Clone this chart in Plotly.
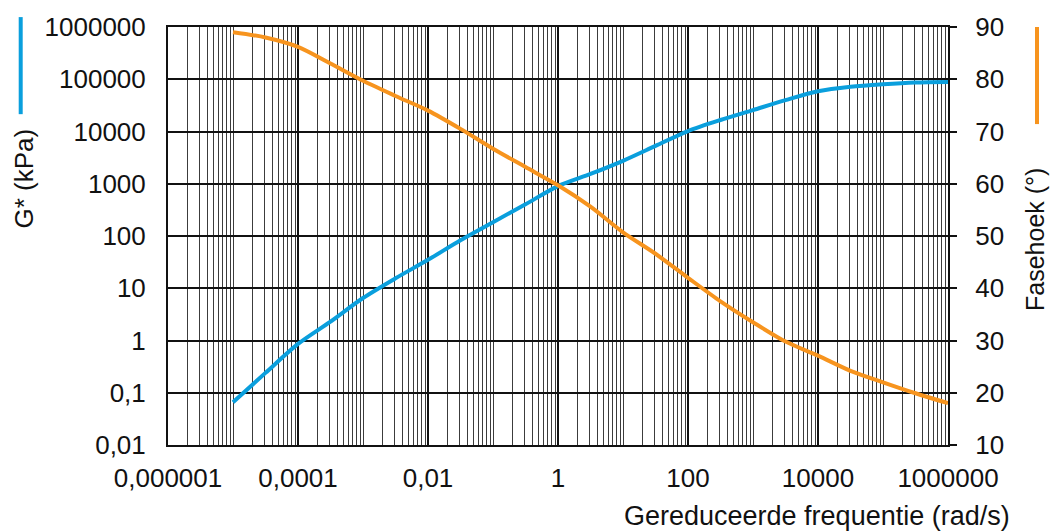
import plotly.graph_objects as go

# Master curve data: reduced frequency (rad/s), complex modulus G* (kPa), phase angle (deg)
frequency = [1e-5, 3.16e-5, 1e-4, 3.16e-4, 1e-3, 3.16e-3, 1e-2, 3.16e-2, 1e-1, 3.16e-1,
             1, 3.16, 10, 31.6, 100, 316, 1000, 3160, 10000, 31600, 100000, 316000, 1000000]
g_star = [0.066, 0.24, 0.86, 2.3, 6.5, 15.5, 35, 83, 184, 405,
          900, 1540, 2750, 5300, 10200, 16600, 25700, 39800, 58900, 72000, 80500, 87000, 89000]
phase = [89.0, 88.0, 86.2, 83.0, 79.7, 76.8, 74.0, 70.5, 66.7, 63.2,
         59.7, 55.6, 50.7, 46.6, 42.0, 37.5, 33.5, 29.8, 27.1, 24.2, 22.0, 19.9, 18.0]

x_tickvals = [1e-6, 1e-4, 1e-2, 1, 100, 10000, 1000000]
x_ticktext = ["0,000001", "0,0001", "0,01", "1", "100", "10000", "1000000"]
y_tickvals = [0.01, 0.1, 1, 10, 100, 1000, 10000, 100000, 1000000]
y_ticktext = ["0,01", "0,1", "1", "10", "100", "1000", "10000", "100000", "1000000"]
y2_tickvals = [10, 20, 30, 40, 50, 60, 70, 80, 90]

BLUE = "#0A9FDD"
ORANGE = "#F7941E"
FONT = "Liberation Sans, Arial, sans-serif"

# every 1..9 step of each decade as a minor gridline
minor_x = [m * 10.0 ** e for e in range(-6, 6) for m in range(1, 10)]

fig = go.Figure()
fig.add_trace(go.Scatter(x=frequency, y=g_star, mode="lines", name="G* (kPa)",
                         line=dict(color=BLUE, width=4, shape="spline", smoothing=0.8),
                         yaxis="y"))
fig.add_trace(go.Scatter(x=frequency, y=phase, mode="lines", name="Fasehoek (°)",
                         line=dict(color=ORANGE, width=4, shape="spline", smoothing=0.8),
                         yaxis="y2"))

L, R, T, B = 168, 102, 23, 86
W, H = 1050, 531
pw, ph = W - L - R, H - T - B


def px(x):
    return (x - L) / pw


def py(y):
    return (H - B - y) / ph


fig.update_layout(
    width=W, height=H,
    margin=dict(l=L, r=R, t=T, b=B),
    paper_bgcolor="white", plot_bgcolor="white",
    showlegend=False,
    font=dict(family=FONT, size=26, color="#111"),
    xaxis=dict(
        type="log", range=[-6, 6],
        tickmode="array", tickvals=x_tickvals, ticktext=x_ticktext,
        showgrid=True, gridcolor="#111", gridwidth=2,
        ticks="", ticklabelstandoff=9,
        showline=True, linecolor="#111", linewidth=2, mirror=True,
        minor=dict(tickmode="array", tickvals=minor_x, showgrid=True,
                   gridcolor="#3c3c3c", gridwidth=1, ticks=""),
        zeroline=False,
    ),
    yaxis=dict(
        type="log", range=[-2, 6],
        tickmode="array", tickvals=y_tickvals, ticktext=y_ticktext,
        showgrid=True, gridcolor="#111", gridwidth=2,
        ticks="", ticklabelstandoff=15,
        showline=True, linecolor="#111", linewidth=2,
        zeroline=False,
    ),
    yaxis2=dict(
        overlaying="y", side="right", range=[10, 90],
        tickmode="array", tickvals=y2_tickvals,
        showgrid=False, zeroline=False,
        ticks="outside", ticklen=7, tickcolor="#111", tickwidth=2,
        ticklabelstandoff=13,
        showline=True, linecolor="#111", linewidth=2,
    ),
)

# axis titles with their series colour keys
fig.add_annotation(text="G* (kPa)", xref="paper", yref="paper", x=px(24), y=py(176),
                   textangle=-90, showarrow=False, font=dict(size=26),
                   xanchor="center", yanchor="middle")
fig.add_annotation(text="Fasehoek (°)", xref="paper", yref="paper", x=px(1035), y=py(238),
                   textangle=-90, showarrow=False, font=dict(size=25),
                   xanchor="center", yanchor="middle")
fig.add_annotation(text="Gereduceerde frequentie (rad/s)", xref="paper", yref="paper",
                   x=px(1012), y=py(517), showarrow=False, font=dict(size=27),
                   xanchor="right", yanchor="middle")
fig.add_shape(type="line", xref="paper", yref="paper", x0=px(20.7), x1=px(20.7),
              y0=py(13), y1=py(111), line=dict(color=BLUE, width=4))
fig.add_shape(type="line", xref="paper", yref="paper", x0=px(1037), x1=px(1037),
              y0=py(23), y1=py(121), line=dict(color=ORANGE, width=4))

fig.write_html("out.html")
